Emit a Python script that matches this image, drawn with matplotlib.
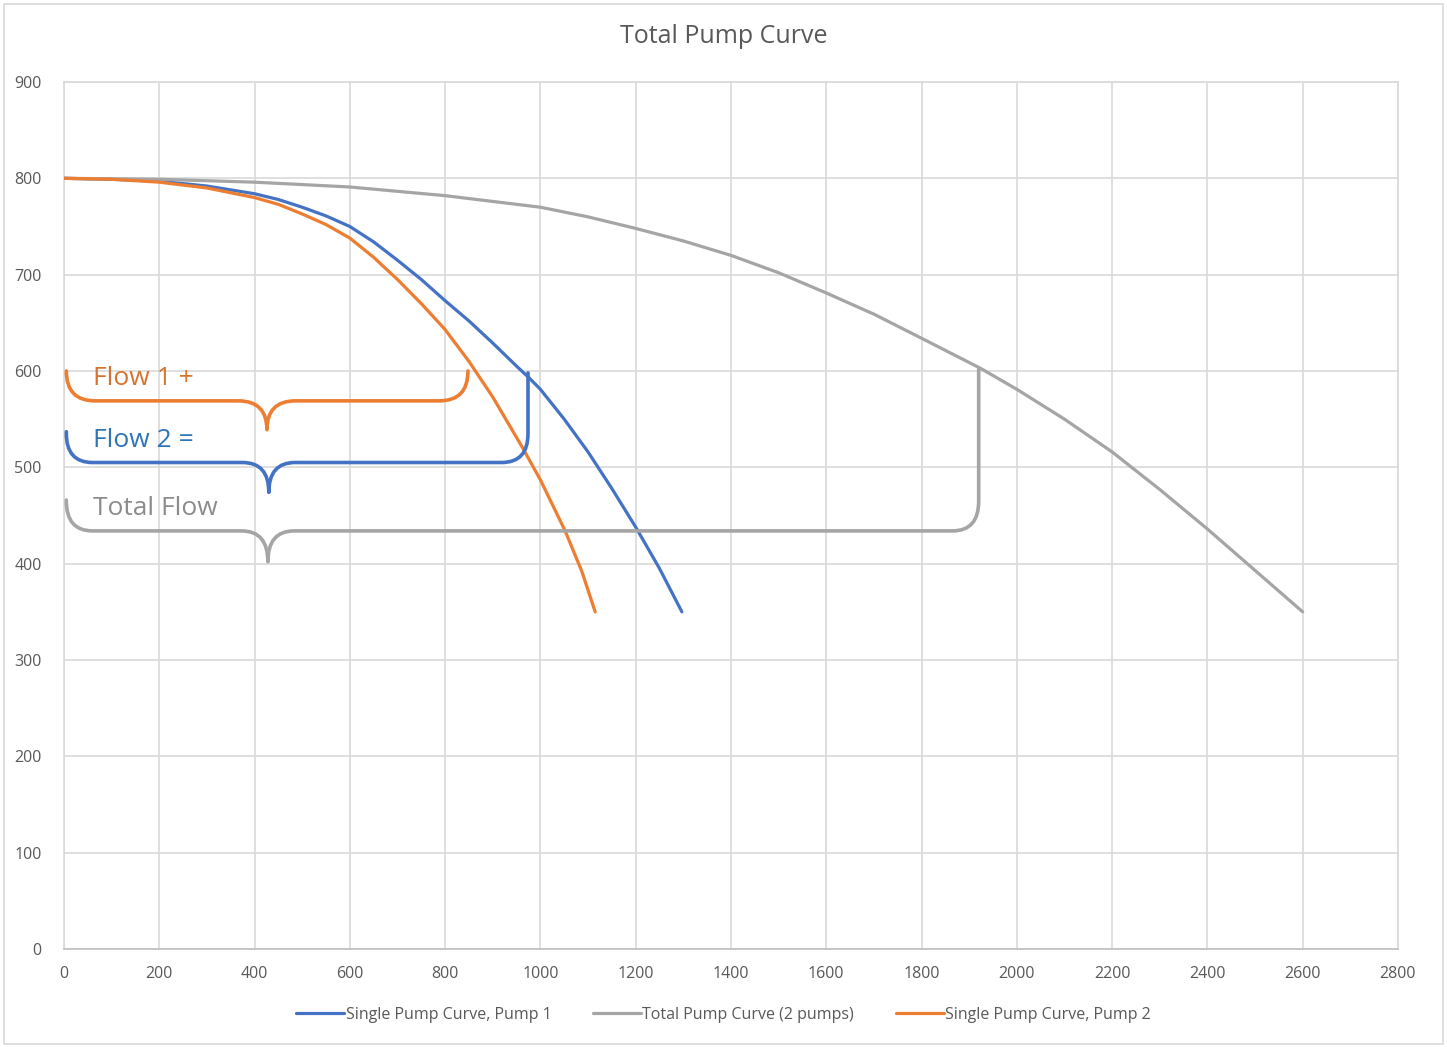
import matplotlib
matplotlib.use("Agg")
import matplotlib.pyplot as plt
from matplotlib.path import Path
from matplotlib.patches import PathPatch, Rectangle

plt.rcParams["font.family"] = ["Open Sans", "DejaVu Sans"]

# pump curves
flow_p1 = [0, 100, 200, 300, 400, 450, 500, 550, 600, 650, 700, 750, 800, 850, 900,
           950, 976, 1000, 1050, 1100, 1150, 1200, 1250, 1297]
head_p1 = [800, 799, 797, 792, 784, 778, 770, 761, 750, 734, 715, 695, 673, 652, 629,
           605, 593, 581, 550, 516, 478, 438, 395, 350]

flow_p2 = [0, 100, 200, 300, 400, 450, 500, 550, 600, 650, 700, 750, 800, 850, 900,
           963, 1000, 1052, 1087, 1115]
head_p2 = [800, 799, 796, 790, 780, 773, 763, 752, 738, 718, 695, 670, 643, 610, 573,
           520, 487, 434, 392, 350]

flow_tot = [0, 200, 400, 600, 800, 1000, 1100, 1200, 1300, 1400, 1500, 1600, 1700, 1800,
            1923, 2000, 2100, 2200, 2300, 2400, 2500, 2600]
head_tot = [800, 799, 796, 791, 782, 770, 760, 748, 735, 720, 702, 681, 659, 634,
            603, 581, 550, 516, 477, 436, 393, 350]

# brace annotations: label, colour, label colour, left x, right x, left top, right top,
# bar y, tip x, tip y, corner width, corner height
braces = [
    ("Flow 1 +", "#ED7D31", "#D5732F", 5, 848, 600, 600, 569, 426, 539, 60, 31),
    ("Flow 2 =", "#4472C4", "#2E75B6", 5, 974, 537, 598, 505, 430, 474, 55, 30),
    ("Total Flow", "#A5A5A5", "#8C8C8C", 5, 1920, 466, 602, 434, 428, 402, 55, 31),
]
label_y = [592, 528, 457]

fig = plt.figure(figsize=(14.47, 10.47), dpi=100)
ax = fig.add_axes([0.0442, 0.0936, 0.9219, 0.8281])

ax.plot(flow_p1, head_p1, color="#4472C4", lw=2.3, label="Single Pump Curve, Pump 1",
        solid_capstyle="round", solid_joinstyle="round", zorder=3)
ax.plot(flow_tot, head_tot, color="#A5A5A5", lw=2.3, label="Total Pump Curve (2 pumps)",
        solid_capstyle="round", solid_joinstyle="round", zorder=3)
ax.plot(flow_p2, head_p2, color="#ED7D31", lw=2.3, label="Single Pump Curve, Pump 2",
        solid_capstyle="round", solid_joinstyle="round", zorder=3)

for (text, col, tcol, x0, x1, yl, yr, yb, xt, yt, rx, ry), ly in zip(braces, label_y):
    verts = [(x0, yl), (x0, yb + ry), (x0, yb), (x0 + rx, yb), (xt - rx, yb),
             (xt, yb), (xt, yt), (xt, yb), (xt + rx, yb), (x1 - rx, yb),
             (x1, yb), (x1, yb + ry), (x1, yr)]
    codes = [Path.MOVETO, Path.LINETO, Path.CURVE3, Path.CURVE3, Path.LINETO,
             Path.CURVE3, Path.CURVE3, Path.CURVE3, Path.CURVE3, Path.LINETO,
             Path.CURVE3, Path.CURVE3, Path.LINETO]
    ax.add_patch(PathPatch(Path(verts, codes), facecolor="none", edgecolor=col,
                           lw=2.6, capstyle="round", joinstyle="round", zorder=4))
    ax.text(62, ly, text, color=tcol, fontsize=19, va="center", ha="left", zorder=5)

ax.set_xlim(0, 2800)
ax.set_ylim(0, 900)
ax.set_xticks(range(0, 2801, 200))
ax.set_yticks(range(0, 901, 100))
ax.grid(True, color="#D9D9D9", lw=1.2)
ax.set_axisbelow(True)
for s in ax.spines.values():
    s.set_color("#D9D9D9")
    s.set_linewidth(1.2)
ax.spines["bottom"].set_color("#BFBFBF")
ax.tick_params(length=0, labelsize=11.5, labelcolor="#595959")
ax.tick_params(axis="y", pad=16)
ax.tick_params(axis="x", pad=12)

fig.text(0.5, 0.965, "Total Pump Curve", ha="center", va="center",
         fontsize=18, color="#595959")

fig.legend(loc="center", bbox_to_anchor=(0.5, 0.031), ncol=3, frameon=False,
           fontsize=11.5, handlelength=3, handletextpad=0.1, columnspacing=2.6,
           labelcolor="#595959")

fig.patches.append(Rectangle((0.003, 0.003), 0.994, 0.993, transform=fig.transFigure,
                             facecolor="none", edgecolor="#D9D9D9", lw=1.2))

fig.savefig("out.png", dpi=100)
